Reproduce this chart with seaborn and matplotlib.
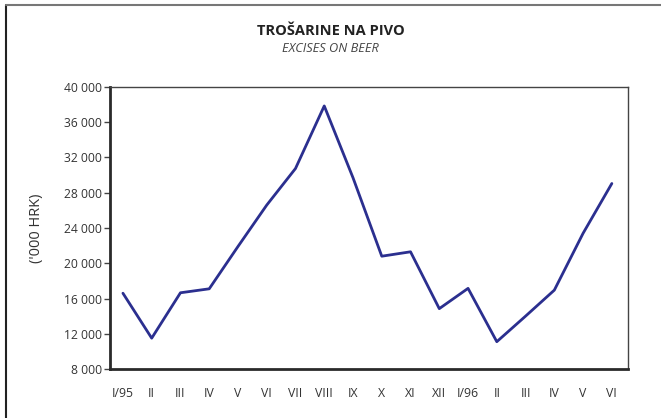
import pandas as pd
import seaborn as sns
import matplotlib.pyplot as plt
from matplotlib.ticker import FuncFormatter

# Monthly excises on beer, '000 HRK
months = ['I/95', 'II', 'III', 'IV', 'V', 'VI', 'VII', 'VIII', 'IX', 'X', 'XI', 'XII',
          'I/96', 'II', 'III', 'IV', 'V', 'VI']
values = [16600, 11500, 16650, 17100, 21900, 26600, 30750, 37850, 29700, 20800,
          21300, 14850, 17150, 11100, 14000, 16950, 23400, 29050]
y_ticks = [8000, 12000, 16000, 20000, 24000, 28000, 32000, 36000, 40000]

df = pd.DataFrame({'pos': range(len(months)), 'value': values})

sns.set_theme(style='white')
plt.rcParams['font.family'] = ['Open Sans', 'DejaVu Sans']

fig = plt.figure(figsize=(6.61, 4.18), dpi=100)
ax = fig.add_axes([0.1664, 0.1172, 0.7836, 0.6747])

sns.lineplot(data=df, x='pos', y='value', ax=ax, color='#2b2f8f', linewidth=2)

ax.set_xlim(-0.45, 17.56)
ax.set_ylim(8000, 40000)
ax.set_yticks(y_ticks)
ax.yaxis.set_major_formatter(FuncFormatter(lambda v, p: f'{int(v):,}'.replace(',', ' ')))
ax.set_xticks(range(len(months)))
ax.set_xticklabels(months)

ax.tick_params(axis='y', which='major', left=True, length=4, width=1, color='#444444',
               labelsize=8.7, labelcolor='#333333', pad=2)
ax.tick_params(axis='x', which='major', bottom=False, labelsize=8.8, labelcolor='#333333', pad=7)

for side in ['left', 'bottom']:
    ax.spines[side].set_color('#2a2a2a')
    ax.spines[side].set_linewidth(2)
for side in ['top', 'right']:
    ax.spines[side].set_color('#444444')
    ax.spines[side].set_linewidth(1)

ax.set_xlabel('')
ax.set_ylabel('')
fig.text(0.055, 0.455, "('000 HRK)", rotation=90, ha='center', va='center',
         fontsize=10.5, color='#333333')

fig.text(0.5, 0.925, 'TROŠARINE NA PIVO', ha='center', va='center',
         fontsize=10.5, fontweight='bold', color='#222222')
fig.text(0.5, 0.885, 'EXCISES ON BEER', ha='center', va='center',
         fontsize=9.2, style='italic', color='#444444')

# outer frame lines: left and top
fig.add_artist(plt.Line2D([0.0098, 0.0098], [0, 0.988], transform=fig.transFigure,
                          color='#222222', linewidth=1.5))
fig.add_artist(plt.Line2D([0.0098, 1], [0.988, 0.988], transform=fig.transFigure,
                          color='#777777', linewidth=1.5))

fig.savefig('out.png', dpi=100)
